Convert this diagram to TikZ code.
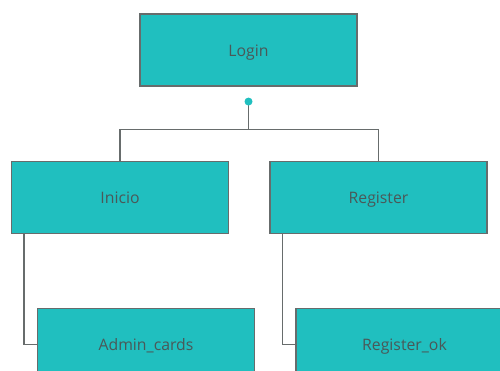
\documentclass[tikz,border=0pt]{standalone}
\usepackage{fontspec}
\setmainfont{Open Sans}
\usepackage{xcolor}
\usepackage{tikz}
\usetikzlibrary{positioning}

\definecolor{boxteal}{HTML}{20BFBF}
\definecolor{boxedge}{HTML}{676C6C}
\definecolor{boxtext}{HTML}{4A5858}

\begin{document}
\begin{tikzpicture}[
    node distance=74pt,
    page/.style={draw, rectangle, minimum width=217pt, minimum height=72pt, text height=14pt, text depth=1pt, fill=boxteal, draw=boxedge, line width=1.1pt, text=boxtext, font=\fontsize{15.8}{18}\selectfont},
    link/.style={draw=boxedge, line width=1.1pt}
]
    \useasboundingbox (0,0) rectangle (500pt,-371pt);
    \clip (0,0) rectangle (500pt,-371pt);

    % Pages
    \node[page] (login) at (248.5pt,-50pt) {Login};
    \node[page, below=of login, xshift=-128.5pt] (inicio) {Inicio};
    \node[page, below=of login, xshift=130pt] (register) {Register};
    \node[page, below=of inicio, xshift=26pt] (admin) {Admin\_cards};
    \node[page, below=of register, xshift=26pt] (registerok) {Register\_ok};

    % Tree links
    \coordinate[below=15pt of login.south] (knob);
    \draw[link] (knob) -- ++(0,-28pt) coordinate (fork) -| (inicio.north);
    \draw[link] (fork) -| (register.north);
    \fill[boxteal] (knob) circle (4pt);

    \draw[link] ([xshift=13pt]inicio.south west) |- (admin.west);
    \draw[link] ([xshift=13pt]register.south west) |- (registerok.west);
\end{tikzpicture}
\end{document}
